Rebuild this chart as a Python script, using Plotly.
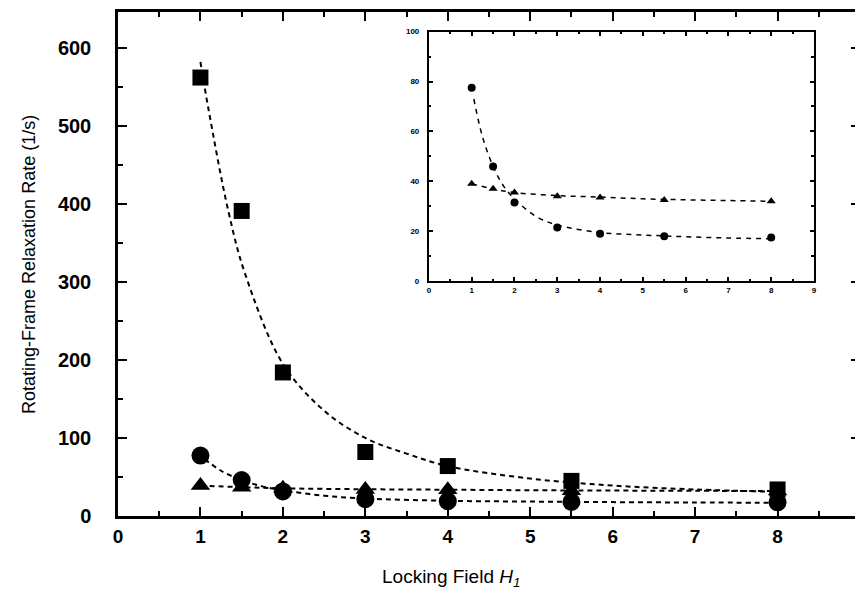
import plotly.graph_objects as go

# ---- data ----
field = [1, 1.5, 2, 3, 4, 5.5, 8]
rate_square = [562, 391, 184, 82, 64, 45, 34]
rate_circle = [77.5, 46, 31.5, 21.5, 19, 18, 17.5]
rate_triangle = [39, 37, 35.5, 34, 33.5, 32.5, 32]

# dashed fit curves
fit_sq_x = [1, 1.1, 1.34, 1.54, 2, 2.5, 3, 3.5, 4, 5, 6, 7, 8]
fit_sq_y = [582, 520, 390, 311, 195, 135, 100, 80, 64, 48, 39, 34, 31]
fit_ci_x = [1.05, 1.25, 1.5, 1.75, 2, 2.5, 3, 4, 5, 6, 7, 8]
fit_ci_y = [73, 58, 46, 38, 33, 26, 22.5, 19.5, 18.5, 17.8, 17.3, 17]
fit_tr_x = [1, 1.5, 2, 3, 4, 5, 6, 7, 8]
fit_tr_y = [39, 37, 35.5, 34.3, 33.7, 33, 32.6, 32.3, 32]

x_ticks = list(range(0, 10))
y_ticks_main = [0, 100, 200, 300, 400, 500, 600]
y_ticks_inset = [0, 20, 40, 60, 80, 100]

x_title = "Locking Field <i>H</i><sub><i>1</i></sub>"
y_title = "Rotating-Frame Relaxation Rate (1/s)"

BLACK = "#000000"
DASH = "5px,4px"
FONT = "Liberation Sans, Arial, sans-serif"

fig = go.Figure()

# main panel
for fx, fy in [(fit_sq_x, fit_sq_y), (fit_ci_x, fit_ci_y), (fit_tr_x, fit_tr_y)]:
    fig.add_trace(go.Scatter(x=fx, y=fy, mode="lines", line=dict(color=BLACK, width=2, dash=DASH, shape="spline"),
                             showlegend=False, hoverinfo="skip", xaxis="x", yaxis="y"))
fig.add_trace(go.Scatter(x=field, y=rate_square, mode="markers", marker=dict(symbol="square", size=16, color=BLACK),
                         showlegend=False, xaxis="x", yaxis="y"))
fig.add_trace(go.Scatter(x=field, y=rate_circle, mode="markers", marker=dict(symbol="circle", size=18, color=BLACK),
                         showlegend=False, xaxis="x", yaxis="y"))
fig.add_trace(go.Scatter(x=field, y=rate_triangle, mode="markers", marker=dict(symbol="triangle-up", size=17, color=BLACK),
                         showlegend=False, xaxis="x", yaxis="y"))

# inset panel
for fx, fy in [(fit_ci_x, fit_ci_y), (fit_tr_x, fit_tr_y)]:
    fig.add_trace(go.Scatter(x=fx, y=fy, mode="lines", line=dict(color=BLACK, width=1.5, dash="5px,5px", shape="spline"),
                             showlegend=False, hoverinfo="skip", xaxis="x2", yaxis="y2"))
fig.add_trace(go.Scatter(x=field, y=rate_circle, mode="markers", marker=dict(symbol="circle", size=8, color=BLACK),
                         showlegend=False, xaxis="x2", yaxis="y2"))
fig.add_trace(go.Scatter(x=field, y=rate_triangle, mode="markers", marker=dict(symbol="triangle-up", size=8, color=BLACK),
                         showlegend=False, xaxis="x2", yaxis="y2"))

axis_common = dict(showgrid=False, zeroline=False, showline=True, linecolor=BLACK, mirror="ticks",
                   ticks="inside", tickcolor=BLACK, automargin=False)

fig.update_layout(
    width=863, height=593,
    paper_bgcolor="white", plot_bgcolor="white",
    margin=dict(l=110, r=11, t=4, b=85, autoexpand=False),
    font=dict(family=FONT, color=BLACK),
    xaxis=dict(**axis_common, range=[0, 9], tickvals=x_ticks, linewidth=2.5, ticklen=9, tickwidth=2,
               minor=dict(ticks="inside", ticklen=5, tickwidth=2, dtick=0.5, tickcolor=BLACK),
               tickfont=dict(size=19, family=FONT, weight="bold"),
               ticklabelstandoff=1,
               domain=[0, 1]),
    yaxis=dict(**axis_common, range=[0, 646], tickvals=y_ticks_main, linewidth=2.5, ticklen=9, tickwidth=2,
               minor=dict(ticks="inside", ticklen=5, tickwidth=2, dtick=50, tickcolor=BLACK),
               tickfont=dict(size=20, family=FONT, weight="bold"),
               ticklabelstandoff=20,
               domain=[0, 1]),
    xaxis2=dict(**axis_common, range=[0, 9], tickvals=x_ticks, linewidth=2, ticklen=4, tickwidth=1.5,
                minor=dict(ticks="inside", ticklen=2.5, tickwidth=1.5, dtick=0.5, tickcolor=BLACK),
                tickfont=dict(size=8, family=FONT, weight="bold"),
                domain=[0.419, 0.938], anchor="y2"),
    yaxis2=dict(**axis_common, range=[0, 100], tickvals=y_ticks_inset, linewidth=2, ticklen=4, tickwidth=1.5,
                minor=dict(ticks="inside", ticklen=2.5, tickwidth=1.5, dtick=10, tickcolor=BLACK),
                tickfont=dict(size=8, family=FONT, weight="bold"),
                ticklabelstandoff=6,
                domain=[0.466, 0.961], anchor="x2"),
    annotations=[
        dict(text=x_title, xref="paper", yref="paper", x=0.449, y=-0.095, xanchor="center", yanchor="top",
             showarrow=False, font=dict(size=19, family=FONT)),
        dict(text=y_title, xref="paper", yref="paper", x=-0.12, y=0.5, xanchor="center", yanchor="middle",
             textangle=-90, showarrow=False, font=dict(size=18, family=FONT)),
    ],
)

fig.write_html("out.html")
